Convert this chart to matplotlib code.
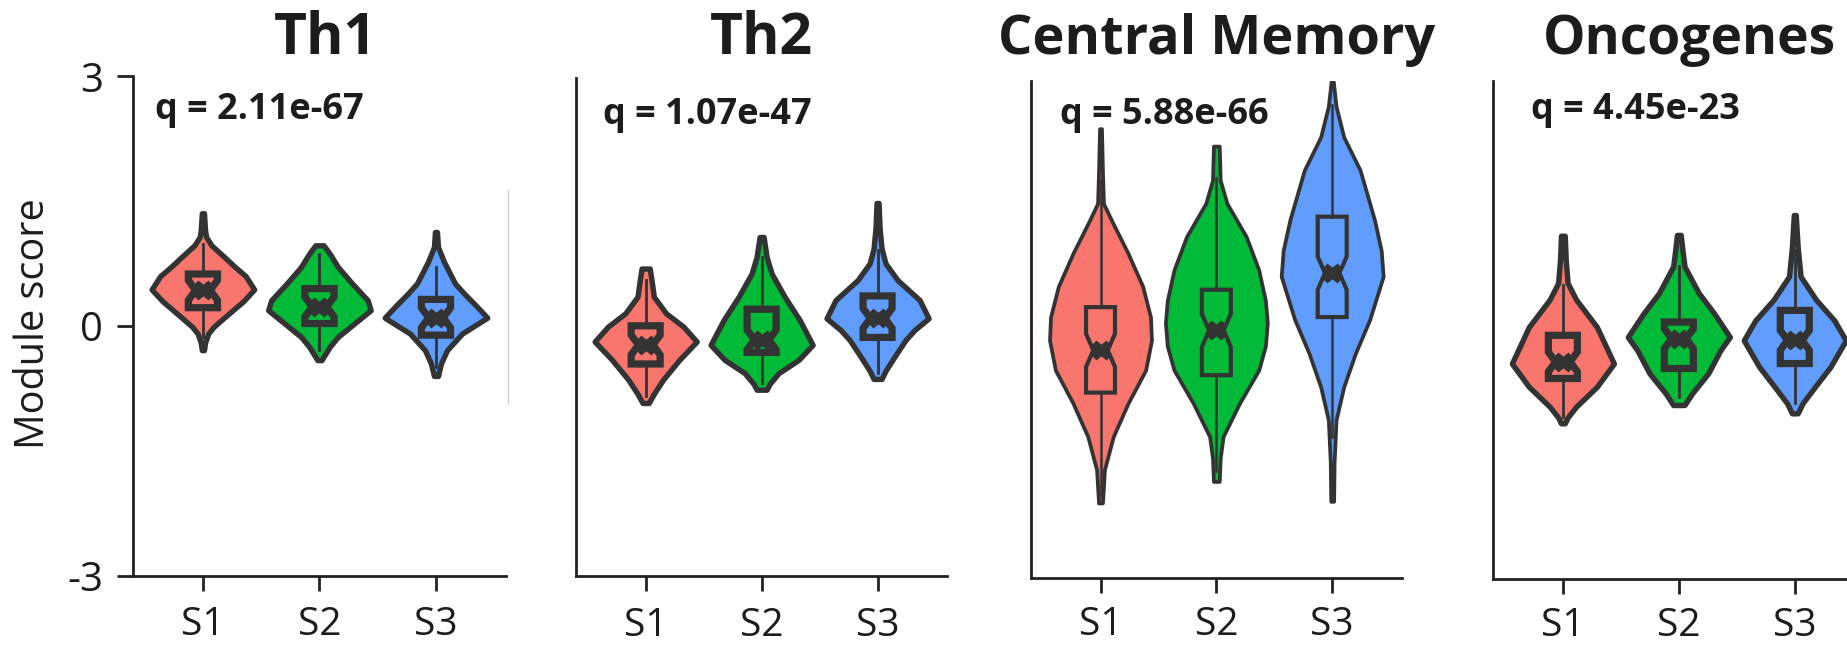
import numpy as np
import matplotlib.pyplot as plt
from matplotlib.lines import Line2D

plt.rcParams['font.family'] = ['Open Sans', 'DejaVu Sans']

titles = ['Th1', 'Th2', 'Central Memory', 'Oncogenes']
q_labels = ['q = 2.11e-67', 'q = 1.07e-47', 'q = 5.88e-66', 'q = 4.45e-23']
groups = ['S1', 'S2', 'S3']
colors = ['#F8766D', '#00BA38', '#619CFF']

# violin outlines: y level -> half width (px)
th1_y = [[1.355, 1.15, 1.07, 0.97, 0.83, 0.71, 0.60, 0.44, 0.30, 0.19, 0.08, -0.01, -0.09, -0.20, -0.29],
         [0.97, 0.87, 0.71, 0.51, 0.31, 0.19, 0.04, -0.13, -0.25, -0.35, -0.41],
         [1.13, 0.95, 0.77, 0.51, 0.39, 0.23, 0.10, -0.09, -0.29, -0.45, -0.60]]
th1_w = [[1, 2, 3, 8, 20, 30, 40, 48, 38, 28, 18, 10, 5, 2, 1],
         [4, 10, 18, 32, 47, 50, 35, 18, 10, 5, 2],
         [1, 2, 8, 19, 28, 41, 51, 26, 11, 5, 2]]
th2_y = [[0.71, 0.55, 0.37, 0.17, 0.01, -0.17, -0.39, -0.63, -0.80, -0.91],
         [1.09, 0.85, 0.65, 0.37, 0.09, -0.21, -0.39, -0.55, -0.68, -0.75],
         [1.50, 1.20, 0.95, 0.77, 0.57, 0.33, 0.11, -0.03, -0.15, -0.35, -0.52, -0.62]]
th2_w = [[4, 6, 8, 20, 37, 50, 33, 17, 8, 3],
         [2, 5, 10, 23, 38, 51, 37, 17, 8, 5],
         [1, 2, 4, 8, 20, 42, 51, 37, 28, 17, 8, 4]]
cm_y = [[2.42, 1.90, 1.52, 1.32, 0.92, 0.52, 0.15, -0.13, -0.49, -0.89, -1.29, -1.69, -2.09],
        [2.21, 1.80, 1.52, 1.12, 0.72, 0.35, 0.08, -0.20, -0.49, -0.89, -1.29, -1.55, -1.83],
        [3.00, 2.69, 2.32, 1.92, 1.32, 0.95, 0.64, 0.12, -0.29, -0.69, -1.09, -1.60, -2.07]]
cm_w = [[1, 2, 3, 11, 28, 43, 51, 52, 46, 28, 13, 4, 2],
        [3, 4, 11, 31, 44, 51, 53, 51, 44, 24, 7, 4, 3],
        [1, 4, 12, 29, 44, 51, 53, 39, 24, 12, 4, 2, 1.5]]
onc_y = [[1.14, 0.85, 0.57, 0.37, 0.04, -0.40, -0.68, -0.92, -1.05, -1.12],
         [1.15, 0.95, 0.77, 0.45, 0.21, -0.08, -0.24, -0.52, -0.76, -0.90],
         [1.39, 1.00, 0.65, 0.37, 0.12, -0.12, -0.44, -0.68, -0.88, -1.00]]
onc_w = [[2, 3, 5, 14, 36, 54, 36, 14, 5, 2],
         [2, 4, 6, 21, 37, 54, 44, 31, 14, 6],
         [1, 3, 6, 22, 41, 53, 37, 21, 8, 3]]

# boxes: (whislo, q1, median, q3, whishi)
th1_box = [(-0.13, 0.22, 0.43, 0.625, 0.99), (-0.29, 0.03, 0.23, 0.45, 0.87), (-0.49, -0.11, 0.10, 0.32, 0.71)]
th2_box = [(-0.83, -0.44, -0.21, 0.02, 0.57), (-0.67, -0.30, -0.15, 0.22, 0.85), (-0.55, -0.12, 0.11, 0.38, 0.93)]
cm_box = [(-2.00, -0.76, -0.25, 0.27, 1.80), (-1.70, -0.55, -0.01, 0.48, 1.82), (-1.30, 0.15, 0.68, 1.36, 2.70)]
onc_box = [(-1.04, -0.58, -0.38, -0.06, 0.55), (-0.80, -0.46, -0.10, 0.10, 0.77), (-0.88, -0.40, -0.12, 0.24, 0.97)]

panels = [(th1_y, th1_w, th1_box), (th2_y, th2_w, th2_box), (cm_y, cm_w, cm_box), (onc_y, onc_w, onc_box)]

# layout
rects = [[0.0720, 0.109, 0.2019, 0.7727], [0.3119, 0.1077, 0.2009, 0.7708],
         [0.5582, 0.1045, 0.2007, 0.7708], [0.8085, 0.1033, 0.2009, 0.7707]]
q_pos = [(0.585, 0.914), (0.63, 0.909), (0.654, 0.912), (0.728, 0.925)]
title_size = [41, 41, 39, 38.5]
title_dx = [0.05, 0.0, 0.0, 0.09]
xpad = [11, 11, 9, 9]
vlw = [3.9, 3.9, 2.7, 3.9]
blw = [5.2, 5.2, 3.0, 5.2]
wlw = [2.0, 2.0, 1.8, 2.0]
notch = [0.12, 0.12, 0.2, 0.12]
dark = '#333333'
txt = '#1e1b1c'

fig = plt.figure(figsize=(18.47, 6.46), dpi=100)

for i, (ys, ws, boxes) in enumerate(panels):
    ax = fig.add_axes(rects[i])
    pos = [1, 2, 3]
    vstats = []
    for y, w, b in zip(ys, ws, boxes):
        vstats.append(dict(coords=np.array(y), vals=np.array(w, dtype=float),
                           mean=b[2], median=b[2], min=min(y), max=max(y)))
    parts = ax.violin(vstats, positions=pos, widths=0.88, showmeans=False,
                      showextrema=False, showmedians=False)
    for body, c in zip(parts['bodies'], colors):
        body.set_facecolor(c)
        body.set_edgecolor(dark)
        body.set_linewidth(vlw[i])
        body.set_alpha(1)
        body.set_zorder(2)

    bstats = []
    for b in boxes:
        bstats.append(dict(whislo=b[0], q1=b[1], med=b[2], q3=b[3], whishi=b[4],
                           cilo=b[2] - notch[i], cihi=b[2] + notch[i], fliers=[]))
    bp = ax.bxp(bstats, positions=pos, widths=0.25, shownotches=True, patch_artist=True,
                showcaps=False, showfliers=False, manage_ticks=False, zorder=3,
                boxprops=dict(edgecolor=dark, linewidth=blw[i]),
                whiskerprops=dict(color=dark, linewidth=wlw[i]),
                medianprops=dict(color=dark, linewidth=5))
    for patch, c in zip(bp['boxes'], colors):
        patch.set_facecolor(c)
    ax.plot(pos, [b[2] for b in boxes], 'X', color=dark, ms=13, zorder=4)

    ax.set_xlim(0.4, 3.6)
    ax.set_ylim(-3, 3)
    for s in ['top', 'right']:
        ax.spines[s].set_visible(False)
    for s in ['left', 'bottom']:
        ax.spines[s].set_linewidth(2)
        ax.spines[s].set_color('#222222')
    ax.set_xticks(pos, groups)
    ax.tick_params(axis='x', length=11, width=2, pad=xpad[i], labelsize=28,
                   color='#222222', labelcolor=txt)
    if i == 0:
        ax.set_yticks([-3, 0, 3], ['-3', '0', '3'])
        ax.tick_params(axis='y', length=11.5, width=2, pad=10, labelsize=29,
                       color='#222222', labelcolor=txt)
        ax.set_ylabel('Module score', fontsize=28.5, color=txt)
        ax.yaxis.set_label_coords(-0.212, 0.505)
    else:
        ax.set_yticks([])

    ax.annotate(titles[i], xy=(2 + title_dx[i], 0.917), xycoords=('data', 'figure fraction'),
                ha='center', va='baseline', fontsize=title_size[i], fontweight='bold', color=txt)
    ax.annotate(q_labels[i], xy=q_pos[i], xycoords=('data', 'axes fraction'),
                ha='left', va='baseline', fontsize=26, fontweight='bold', color=txt)

# faint leftover frame line next to the first panel
fig.add_artist(Line2D([0.275, 0.275], [0.376, 0.706], color='#d0d0d0', lw=1))

fig.savefig('out.png', dpi=100)
